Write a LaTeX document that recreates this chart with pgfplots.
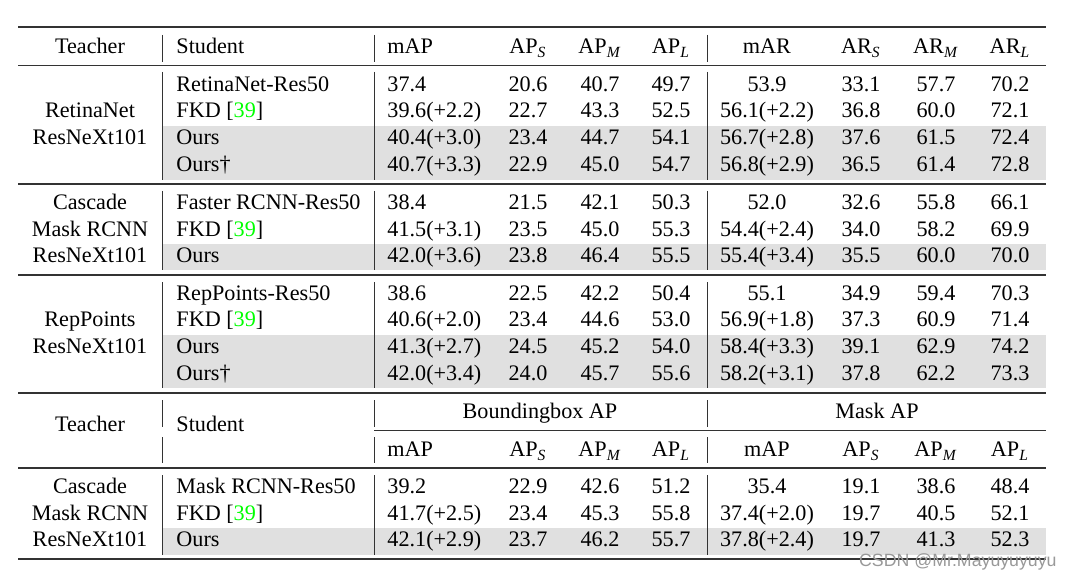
\documentclass[border=0pt]{standalone}
\usepackage{fontspec}
\setmainfont{Liberation Serif}
\newfontfamily\wmfont{Liberation Sans}
\usepackage{pgfplots}
\pgfplotsset{compat=1.18}

\definecolor{rulegray}{HTML}{333333}
\definecolor{rowgray}{HTML}{E0E0E0}
\definecolor{citegreen}{HTML}{00FF00}

\newcommand\cit{FKD [\textcolor{citegreen}{39}]}
\newcommand\sub[1]{\textsubscript{\textit{#1}}}

% y, student, mAP, AP_S, AP_M, AP_L
\newcommand\rowL[6]{%
  \node[anchor=base west] at (axis cs:176,#1) {#2};
  \node[anchor=base west] at (axis cs:387,#1) {#3};
  \node[anchor=base] at (axis cs:528,#1) {#4};
  \node[anchor=base] at (axis cs:600,#1) {#5};
  \node[anchor=base] at (axis cs:671,#1) {#6};}
% y, mAR, AR_S, AR_M, AR_L
\newcommand\rowR[5]{%
  \node[anchor=base] at (axis cs:767,#1) {#2};
  \node[anchor=base] at (axis cs:861,#1) {#3};
  \node[anchor=base] at (axis cs:936,#1) {#4};
  \node[anchor=base] at (axis cs:1010,#1) {#5};}
\newcommand\teach[2]{\node[anchor=base] at (axis cs:90,#1) {#2};}

\begin{document}
\begin{tikzpicture}[font=\fontsize{10}{12}\selectfont, every node/.style={inner sep=0pt}]
\begin{axis}[
  width=483.5pt, height=260.7pt, scale only axis,
  xmin=0, xmax=1072, ymin=0, ymax=578, y dir=reverse,
  axis lines=none, xtick=\empty, ytick=\empty, clip=false,
]
% fondo y filas grises
\addplot[fill=white, draw=none] coordinates {(0,0) (1072,0) (1072,578) (0,578)};
\addplot[fill=rowgray, draw=none] coordinates {(162,126) (1046,126) (1046,180) (162,180)};
\addplot[fill=rowgray, draw=none] coordinates {(162,244) (1046,244) (1046,270) (162,270)};
\addplot[fill=rowgray, draw=none] coordinates {(162,335) (1046,335) (1046,388) (162,388)};
\addplot[fill=rowgray, draw=none] coordinates {(162,528) (1046,528) (1046,555) (162,555)};

% reglas horizontales
\addplot[rulegray, line width=0.9pt] coordinates {(18,27) (1046,27)};
\addplot[rulegray, line width=0.6pt] coordinates {(18,65.5) (1046,65.5)};
\addplot[rulegray, line width=0.7pt] coordinates {(18,184) (1046,184)};
\addplot[rulegray, line width=0.7pt] coordinates {(18,275) (1046,275)};
\addplot[rulegray, line width=0.9pt] coordinates {(18,393) (1046,393)};
\addplot[rulegray, line width=0.5pt] coordinates {(374,430.5) (1046,430.5)};
\addplot[rulegray, line width=0.6pt] coordinates {(18,468) (1046,468)};
\addplot[rulegray, line width=0.9pt] coordinates {(18,559) (1046,559)};

% reglas verticales
\addplot[rulegray, line width=0.45pt] coordinates {(162,35) (162,62)};
\addplot[rulegray, line width=0.45pt] coordinates {(374,35) (374,62)};
\addplot[rulegray, line width=0.45pt] coordinates {(707,35) (707,62)};
\addplot[rulegray, line width=0.45pt] coordinates {(162,72) (162,180)};
\addplot[rulegray, line width=0.45pt] coordinates {(374,72) (374,180)};
\addplot[rulegray, line width=0.45pt] coordinates {(707,72) (707,180)};
\addplot[rulegray, line width=0.45pt] coordinates {(162,191) (162,270)};
\addplot[rulegray, line width=0.45pt] coordinates {(374,191) (374,270)};
\addplot[rulegray, line width=0.45pt] coordinates {(707,191) (707,270)};
\addplot[rulegray, line width=0.45pt] coordinates {(162,282) (162,388)};
\addplot[rulegray, line width=0.45pt] coordinates {(374,282) (374,388)};
\addplot[rulegray, line width=0.45pt] coordinates {(707,282) (707,388)};
\addplot[rulegray, line width=0.45pt] coordinates {(162,400) (162,427)};
\addplot[rulegray, line width=0.45pt] coordinates {(374,400) (374,427)};
\addplot[rulegray, line width=0.45pt] coordinates {(707,400) (707,427)};
\addplot[rulegray, line width=0.45pt] coordinates {(162,437) (162,463)};
\addplot[rulegray, line width=0.45pt] coordinates {(374,437) (374,463)};
\addplot[rulegray, line width=0.45pt] coordinates {(707,437) (707,463)};
\addplot[rulegray, line width=0.45pt] coordinates {(162,475) (162,555)};
\addplot[rulegray, line width=0.45pt] coordinates {(374,475) (374,555)};
\addplot[rulegray, line width=0.45pt] coordinates {(707,475) (707,555)};

% cabecera 1
\teach{54}{Teacher}
\rowL{54}{Student}{mAP}{AP\sub{S}}{AP\sub{M}}{AP\sub{L}}
\rowR{54}{mAR}{AR\sub{S}}{AR\sub{M}}{AR\sub{L}}

% RetinaNet
\teach{118}{RetinaNet}
\teach{144.7}{ResNeXt101}
\rowL{91.5}{RetinaNet-Res50}{37.4}{20.6}{40.7}{49.7}
\rowR{91.5}{53.9}{33.1}{57.7}{70.2}
\rowL{118}{\cit}{39.6(+2.2)}{22.7}{43.3}{52.5}
\rowR{118}{56.1(+2.2)}{36.8}{60.0}{72.1}
\rowL{144.7}{Ours}{40.4(+3.0)}{23.4}{44.7}{54.1}
\rowR{144.7}{56.7(+2.8)}{37.6}{61.5}{72.4}
\rowL{171.3}{Ours\textdagger}{40.7(+3.3)}{22.9}{45.0}{54.7}
\rowR{171.3}{56.8(+2.9)}{36.5}{61.4}{72.8}

% Cascade Mask RCNN
\teach{209.3}{Cascade}
\teach{236}{Mask RCNN}
\teach{262.7}{ResNeXt101}
\rowL{209.3}{Faster RCNN-Res50}{38.4}{21.5}{42.1}{50.3}
\rowR{209.3}{52.0}{32.6}{55.8}{66.1}
\rowL{236}{\cit}{41.5(+3.1)}{23.5}{45.0}{55.3}
\rowR{236}{54.4(+2.4)}{34.0}{58.2}{69.9}
\rowL{262.7}{Ours}{42.0(+3.6)}{23.8}{46.4}{55.5}
\rowR{262.7}{55.4(+3.4)}{35.5}{60.0}{70.0}

% RepPoints
\teach{326.7}{RepPoints}
\teach{353.3}{ResNeXt101}
\rowL{300}{RepPoints-Res50}{38.6}{22.5}{42.2}{50.4}
\rowR{300}{55.1}{34.9}{59.4}{70.3}
\rowL{326.7}{\cit}{40.6(+2.0)}{23.4}{44.6}{53.0}
\rowR{326.7}{56.9(+1.8)}{37.3}{60.9}{71.4}
\rowL{353.3}{Ours}{41.3(+2.7)}{24.5}{45.2}{54.0}
\rowR{353.3}{58.4(+3.3)}{39.1}{62.9}{74.2}
\rowL{380}{Ours\textdagger}{42.0(+3.4)}{24.0}{45.7}{55.6}
\rowR{380}{58.2(+3.1)}{37.8}{62.2}{73.3}

% cabecera 2
\teach{431.5}{Teacher}
\node[anchor=base west] at (axis cs:176,431.5) {Student};
\node[anchor=base] at (axis cs:540,418) {Boundingbox AP};
\node[anchor=base] at (axis cs:877,418) {Mask AP};
\rowL{456.7}{}{mAP}{AP\sub{S}}{AP\sub{M}}{AP\sub{L}}
\rowR{456.7}{mAP}{AP\sub{S}}{AP\sub{M}}{AP\sub{L}}

% Cascade Mask RCNN (mask)
\teach{493.5}{Cascade}
\teach{520}{Mask RCNN}
\teach{546.7}{ResNeXt101}
\rowL{493.5}{Mask RCNN-Res50}{39.2}{22.9}{42.6}{51.2}
\rowR{493.5}{35.4}{19.1}{38.6}{48.4}
\rowL{520}{\cit}{41.7(+2.5)}{23.4}{45.3}{55.8}
\rowR{520}{37.4(+2.0)}{19.7}{40.5}{52.1}
\rowL{546.7}{Ours}{42.1(+2.9)}{23.7}{46.2}{55.7}
\rowR{546.7}{37.8(+2.4)}{19.7}{41.3}{52.3}

% marca de agua
\node[anchor=base east, font=\wmfont\fontsize{8}{9}\selectfont, text=black!40] at (axis cs:1057,566) {CSDN @Mr.Mayuyuyuyu};
\end{axis}
\end{tikzpicture}
\end{document}
